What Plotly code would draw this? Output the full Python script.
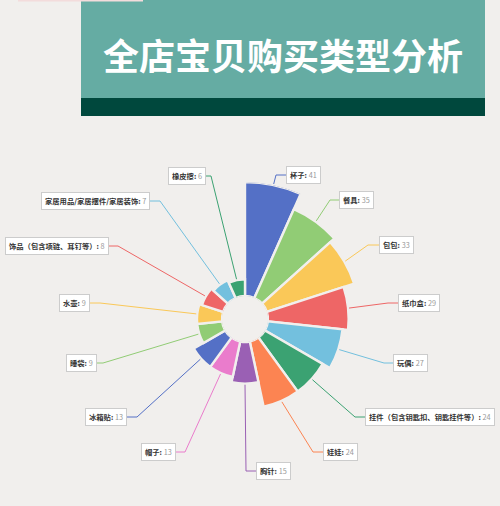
import math
import plotly.graph_objects as go

# ---------------- data ----------------
categories = ["杯子", "餐具", "包包", "纸巾盒", "玩偶",
              "挂件（包含钥匙扣、钥匙挂件等）", "娃娃", "胸针", "帽子", "冰箱贴",
              "睡袋", "水壶", "饰品（包含项链、耳钉等）", "家居用品/家居摆件/家居装饰", "橡皮擦"]
values = [41, 35, 33, 29, 27, 24, 24, 15, 13, 13, 9, 9, 8, 7, 6]
colors = ["#5470c6", "#91cc75", "#fac858", "#ee6666", "#73c0de", "#3ba272",
          "#fc8452", "#9a60b4", "#ea7ccc", "#5470c6", "#91cc75", "#fac858",
          "#ee6666", "#73c0de", "#3ba272"]
title_text = "全店宝贝购买类型分析"

# ---------------- layout (pixels) ----------------
W, H = 500, 506
CX, CY, R = 245, 319, 137
HOLE_PX = 23
BG = "#f1efed"
FONT = "Noto Sans CJK SC"

# label elbow points and box edge x (layout positions)
elbow_x = [276, 330, 368, 388, 384, 355, 313, 246, 185, 137, 103, 100, 118, 160, 211]
elbow_y = [175, 200, 245, 303, 363, 417, 452, 471, 452, 417, 363, 303, 246, 201, 176]
box_x = [286, 339, 379, 398, 393, 365, 323, 256, 176, 127, 97, 90, 109, 150, 206]
label_side = ["L", "L", "L", "L", "L", "L", "L", "L", "R", "R", "R", "R", "R", "R", "R"]

n = len(categories)
step = 360.0 / n
theta = [step * (i + 0.5) for i in range(n)]
vmax = max(values)

fig = go.Figure()
fig.add_trace(go.Barpolar(
    r=values, theta=theta, width=[step] * n,
    marker=dict(color=colors, line=dict(color=BG, width=2.4)),
    hoverinfo="skip", showlegend=False,
))


def px(x):
    return x / W


def py(y):
    return 1 - y / H


shapes = []
annotations = []

# title banner
shapes.append(dict(type="rect", xref="paper", yref="paper", x0=px(81), x1=px(485),
                   y0=py(98), y1=py(0), fillcolor="#65aca3", line=dict(width=0), layer="below"))
shapes.append(dict(type="rect", xref="paper", yref="paper", x0=px(81), x1=px(485),
                   y0=py(116), y1=py(98), fillcolor="#00483d", line=dict(width=0), layer="below"))
shapes.append(dict(type="rect", xref="paper", yref="paper", x0=px(18), x1=px(143),
                   y0=py(1.5), y1=py(0), fillcolor="#f3dcdc", line=dict(width=0), layer="below"))
annotations.append(dict(text="<b>" + title_text + "</b>", xref="paper", yref="paper",
                        x=px(283), y=py(54), xanchor="center", yanchor="middle", showarrow=False,
                        font=dict(family=FONT, size=36, color="#ffffff")))

for i in range(n):
    # start point of leader line at outer edge of sector, from the radial scale
    rp = HOLE_PX + (R - HOLE_PX) * values[i] / vmax + 1
    a = math.radians(theta[i])
    sx = CX + rp * math.sin(a)
    sy = CY - rp * math.cos(a)
    path = "M {} {} L {} {} L {} {}".format(px(sx), py(sy), px(elbow_x[i]), py(elbow_y[i]),
                                            px(box_x[i]), py(elbow_y[i]))
    shapes.append(dict(type="path", xref="paper", yref="paper", path=path,
                       line=dict(color=colors[i], width=1)))
    txt = "<b>{}: </b><span style='color:#999999'>{}</span>".format(categories[i], values[i])
    annotations.append(dict(text=txt, xref="paper", yref="paper",
                            x=px(box_x[i]), y=py(elbow_y[i]),
                            xanchor="left" if label_side[i] == "L" else "right",
                            yanchor="middle", showarrow=False,
                            bgcolor="#ffffff", bordercolor="#cccccc", borderwidth=1, borderpad=3,
                            font=dict(family=FONT, size=7.3, color="#333333")))

fig.update_layout(
    width=W, height=H,
    margin=dict(l=0, r=0, t=0, b=0),
    paper_bgcolor=BG, plot_bgcolor=BG,
    polar=dict(
        domain=dict(x=[(CX - R) / W, (CX + R) / W], y=[1 - (CY + R) / H, 1 - (CY - R) / H]),
        hole=HOLE_PX / R,
        bgcolor="rgba(0,0,0,0)",
        radialaxis=dict(range=[0, vmax], visible=False),
        angularaxis=dict(visible=False, rotation=90, direction="clockwise"),
        bargap=0,
    ),
    shapes=shapes,
    annotations=annotations,
    showlegend=False,
)

fig.write_html("out.html",
               config={"displayModeBar": False},
               post_script="document.body.style.margin='0';document.body.style.padding='0';"
                           "document.body.style.overflow='hidden';"
                           "document.documentElement.style.overflow='hidden';")
